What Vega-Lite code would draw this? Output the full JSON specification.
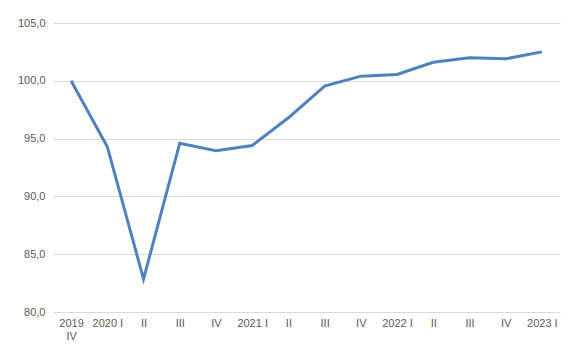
{
  "$schema": "https://vega.github.io/schema/vega-lite/v6.json",
  "width": 507,
  "height": 289,
  "autosize": "none",
  "padding": {"left": 53, "top": 23, "right": 20, "bottom": 47},
  "background": "white",
  "config": {
    "view": {"stroke": null},
    "font": "Liberation Sans"
  },
  "data": {
    "values": [
      {"q": "2019 IV", "v": 100.0},
      {"q": "2020 I", "v": 94.3},
      {"q": "2020 II", "v": 82.85},
      {"q": "2020 III", "v": 94.6},
      {"q": "2020 IV", "v": 93.95},
      {"q": "2021 I", "v": 94.4},
      {"q": "2021 II", "v": 96.8},
      {"q": "2021 III", "v": 99.55},
      {"q": "2021 IV", "v": 100.4},
      {"q": "2022 I", "v": 100.55},
      {"q": "2022 II", "v": 101.6},
      {"q": "2022 III", "v": 102.0},
      {"q": "2022 IV", "v": 101.9},
      {"q": "2023 I", "v": 102.5}
    ]
  },
  "mark": {"type": "line", "color": "#4F81BD", "strokeWidth": 3, "strokeJoin": "miter"},
  "encoding": {
    "x": {
      "field": "q",
      "type": "ordinal",
      "sort": null,
      "scale": {"type": "point", "padding": 0.5},
      "axis": {
        "title": null,
        "labelAngle": 0,
        "domain": false,
        "ticks": false,
        "grid": false,
        "labelFontSize": 11,
        "labelColor": "#595959",
        "labelPadding": 5,
        "labelLineHeight": 13,
        "labelExpr": "datum.value == '2019 IV' ? ['2019','IV'] : (split(datum.value,' ')[1] == 'I' ? datum.value : split(datum.value,' ')[1])"
      }
    },
    "y": {
      "field": "v",
      "type": "quantitative",
      "scale": {"domain": [80, 105], "nice": false, "zero": false},
      "axis": {
        "title": null,
        "values": [80, 85, 90, 95, 100, 105],
        "format": ".1f",
        "labelExpr": "replace(datum.label, '.', ',')",
        "domain": false,
        "ticks": false,
        "gridColor": "#D9D9D9",
        "gridWidth": 1,
        "labelFontSize": 11,
        "labelColor": "#595959",
        "labelPadding": 8
      }
    }
  }
}
